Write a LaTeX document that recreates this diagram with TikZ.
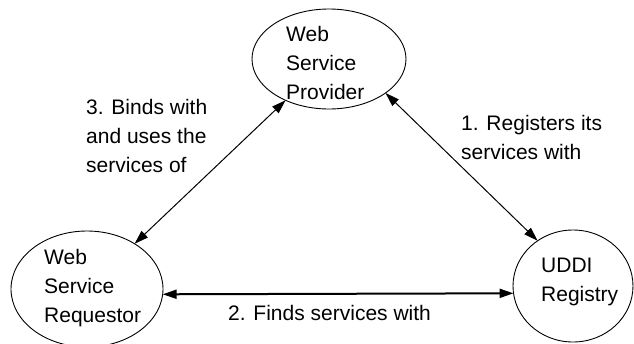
\documentclass[tikz,border=0pt]{standalone}
\usepackage{fontspec}
\setmainfont{Liberation Sans}
\usetikzlibrary{shapes.geometric,arrows.meta}

\begin{document}
\begin{tikzpicture}[x=1pt,y=-1pt,
  party/.style={draw,ellipse,line width=0.9pt,inner sep=0pt,outer sep=0pt},
  txt/.style={anchor=north west,inner sep=0pt,align=left,
    font=\fontsize{21}{29}\selectfont},
  link/.style={line width=1pt,{Triangle[length=14pt,width=9pt]}-{Triangle[length=14pt,width=9pt]}},
  boldlink/.style={link,line width=2pt}]
  \useasboundingbox (0,0) rectangle (634,343);

  % the three parties
  \node[party,minimum width=154pt,minimum height=100pt] (prov) at (329,59) {};
  \node[party,minimum width=152pt,minimum height=116pt] (req) at (87,289) {};
  \node[party,minimum width=120pt,minimum height=112pt] (udd) at (573,286) {};

  \node[txt] (provtxt) at (286,26) {Web\\Service\\Provider};
  \node[txt] (reqtxt) at (44,249) {Web\\Service\\Requestor};
  \node[txt] (uddtxt) at (541,258) {UDDI\\Registry};

  % interactions
  \draw[link] (req) -- (prov);
  \draw[link] (prov.-31) -- (udd.128);
  \draw[boldlink] (req.-4) -- (udd.187);

  \node[txt] (bind) at (86,99) {3. Binds with\\and uses the\\services of};
  \node[txt] (reg) at (461,115) {1. Registers its\\services with};
  \node[txt] (find) at (228,305) {2. Finds services with};
\end{tikzpicture}
\end{document}
